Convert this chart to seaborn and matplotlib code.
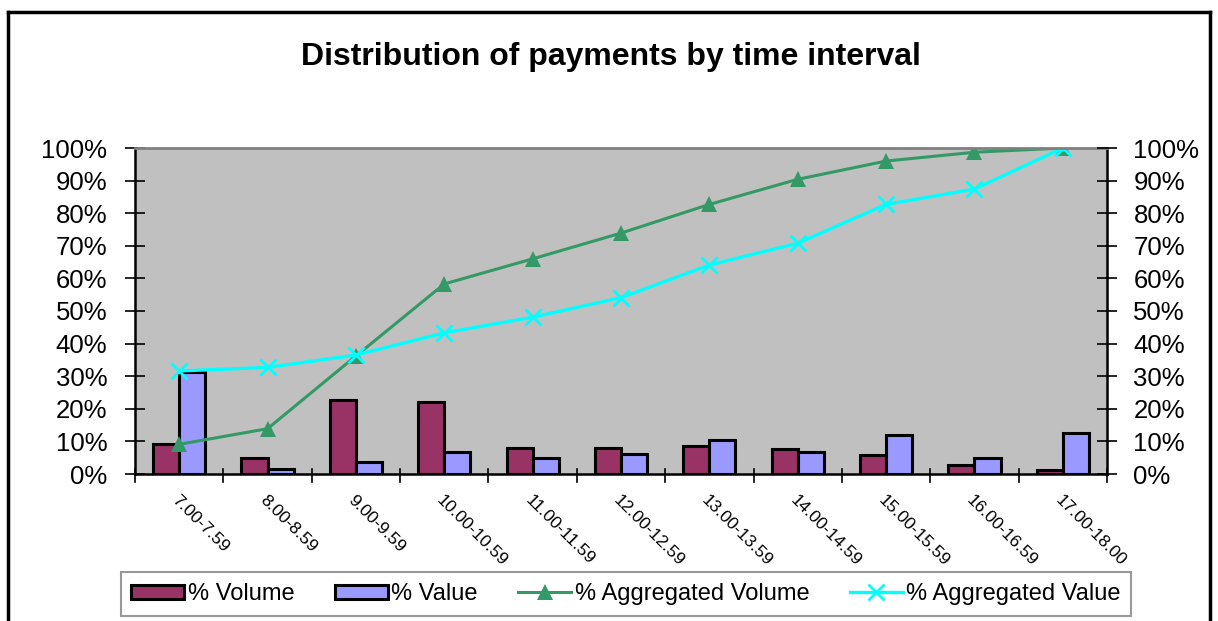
import numpy as np
import pandas as pd
import matplotlib
matplotlib.use("Agg")
import matplotlib.pyplot as plt
import seaborn as sns
from matplotlib.patches import Patch
from matplotlib.lines import Line2D
from matplotlib.ticker import MultipleLocator, FuncFormatter

categories = ["7.00-7.59", "8.00-8.59", "9.00-9.59", "10.00-10.59", "11.00-11.59",
              "12.00-12.59", "13.00-13.59", "14.00-14.59", "15.00-15.59",
              "16.00-16.59", "17.00-18.00"]
pct_volume = [9.2, 5.0, 22.6, 22.1, 7.9, 8.1, 8.7, 7.8, 5.8, 2.9, 1.3]
pct_value = [31.4, 1.4, 3.8, 6.8, 5.0, 6.0, 10.4, 6.7, 12.0, 4.9, 12.6]
agg_volume = [9.1, 13.9, 36.2, 58.3, 66.0, 73.9, 82.7, 90.4, 96.0, 98.7, 100.0]
agg_value = [31.6, 32.7, 36.5, 43.3, 48.1, 54.1, 64.1, 70.8, 82.7, 87.4, 100.0]

plt.rcParams['font.family'] = ['Liberation Sans', 'DejaVu Sans']

bars = pd.DataFrame({
    "interval": categories * 2,
    "pct": pct_volume + pct_value,
    "series": ["% Volume"] * len(categories) + ["% Value"] * len(categories),
})

c_vol = "#993366"
c_val = "#9999FF"
c_avol = "#339966"
c_aval = "#00FFFF"

fig = plt.figure(figsize=(12.18, 6.21), dpi=100)
ax = fig.add_axes([135 / 1218, 1 - 474 / 621, (1107 - 135) / 1218, (474 - 148) / 621])
ax.set_facecolor("#C0C0C0")

sns.barplot(data=bars, x="interval", y="pct", hue="series", order=categories,
            hue_order=["% Volume", "% Value"], palette=[c_vol, c_val],
            width=0.59, gap=0, edgecolor="black", linewidth=2.2, saturation=1,
            legend=False, ax=ax)

xs = np.arange(len(categories))
sns.lineplot(x=xs, y=agg_volume, ax=ax, color=c_avol, linewidth=2.2, marker="^",
             markersize=11, markeredgewidth=0, legend=False)
sns.lineplot(x=xs, y=agg_value, ax=ax, color=c_aval, linewidth=2.4, marker="x",
             markersize=12, markeredgewidth=2, markeredgecolor=c_aval, legend=False)

ax.set_xlim(-0.5, len(categories) - 0.5)
ax.set_ylim(0, 100)
ax.set_xlabel("")
ax.set_ylabel("")
ax.grid(False)

pct_fmt = FuncFormatter(lambda v, p: f"{int(round(v))}%")
ax.yaxis.set_major_locator(MultipleLocator(10))
ax.yaxis.set_major_formatter(pct_fmt)
ax.tick_params(axis="y", labelsize=18.5, direction="inout", length=14, width=1.2, pad=13)

ax.set_xticks(xs)
ax.set_xticklabels(categories, rotation=-45, ha="left", va="top",
                   rotation_mode="anchor", fontsize=12.5)
ax.tick_params(axis="x", length=0, pad=13)
for b in np.arange(-0.5, len(categories), 1.0):
    ax.plot([b, b], [-2.5, 1.5], color="black", lw=1.2, clip_on=False)

for s in ["left", "right", "bottom"]:
    ax.spines[s].set_color("black")
    ax.spines[s].set_linewidth(1.8)
ax.spines["top"].set_color("#808080")
ax.spines["top"].set_linewidth(2)

ax2 = ax.twinx()
ax2.set_ylim(0, 100)
ax2.yaxis.set_major_locator(MultipleLocator(10))
ax2.yaxis.set_major_formatter(pct_fmt)
ax2.tick_params(axis="y", labelsize=18.5, direction="inout", length=14, width=1.2, pad=12)
ax2.grid(False)
for s in ax2.spines.values():
    s.set_visible(False)

fig.text(611 / 1218, 1 - 57 / 621, "Distribution of payments by time interval",
         ha="center", va="center", fontsize=23, fontweight="bold")

handles = [
    Patch(facecolor=c_vol, edgecolor="black", linewidth=2.2),
    Patch(facecolor=c_val, edgecolor="black", linewidth=2.2),
    Line2D([], [], color=c_avol, linewidth=2.2, marker="^", markersize=11, markeredgewidth=0),
    Line2D([], [], color=c_aval, linewidth=2.4, marker="x", markersize=12, markeredgewidth=2),
]
labels = ["% Volume", "% Value", "% Aggregated Volume", "% Aggregated Value"]
leg = fig.legend(handles, labels, loc="center", bbox_to_anchor=(626 / 1218, 1 - 594 / 621),
                 ncol=4, fontsize=17, frameon=True, fancybox=False, edgecolor="#808080",
                 handlelength=2.25, handleheight=0.55, handletextpad=0.15, columnspacing=1.7,
                 borderpad=0.45, borderaxespad=0)
leg.get_frame().set_linewidth(1.5)

# outer chart frame
fig.add_artist(Line2D([8 / 1218, 8 / 1218], [0, 1 - 12 / 621], color="black", lw=2.5,
                      transform=fig.transFigure))
fig.add_artist(Line2D([8 / 1218, 1210 / 1218], [1 - 12 / 621, 1 - 12 / 621], color="black",
                      lw=2.5, transform=fig.transFigure))
fig.add_artist(Line2D([1210 / 1218, 1210 / 1218], [0, 1 - 12 / 621], color="black", lw=2.5,
                      transform=fig.transFigure))

fig.savefig("out.png", dpi=100)
